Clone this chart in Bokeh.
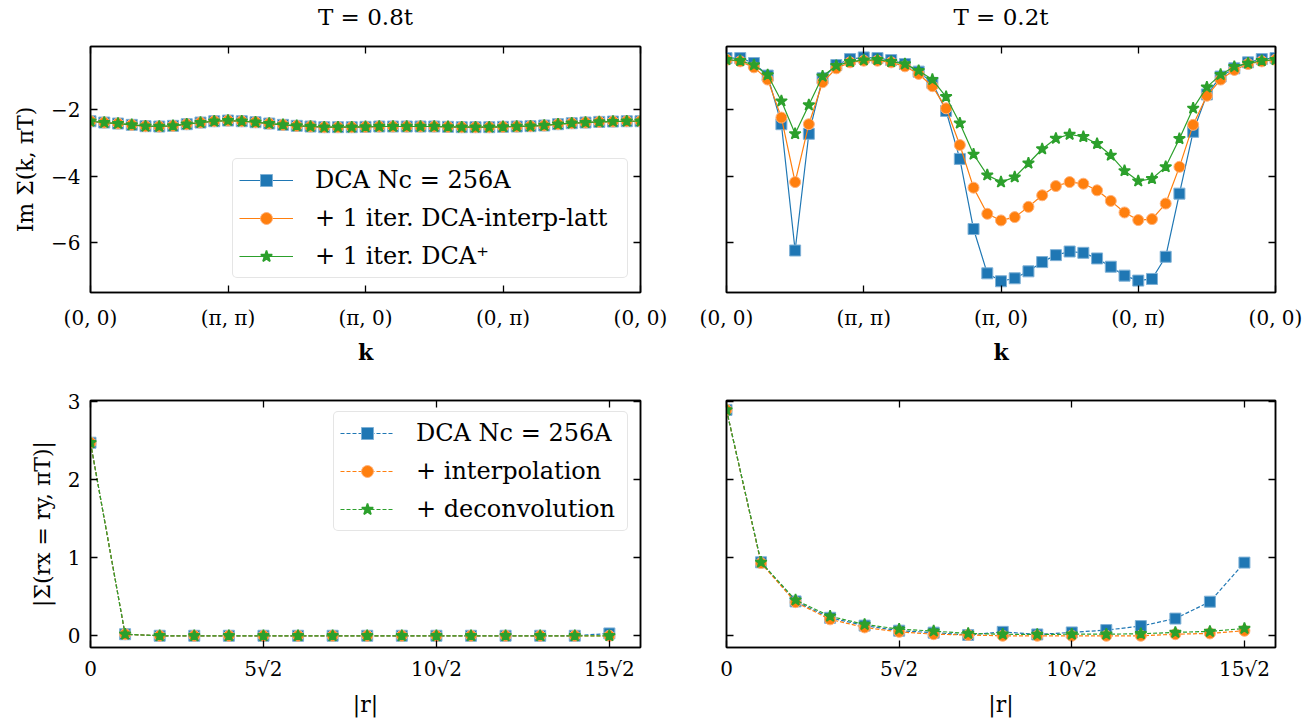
import numpy as np
from bokeh.plotting import figure
from bokeh.models import LinearAxis, FixedTicker, Range1d, Legend, LegendItem
from bokeh.layouts import column, row
from bokeh.embed import file_html
from bokeh.resources import INLINE

# ---------------- data ----------------
# k-path index: 41 points, 10 per segment (0,0)->(pi,pi)->(pi,0)->(0,pi)->(0,0)
k_index = list(range(41))
k_tick_pos = [0, 1, 2, 3, 4]
k_tick_labels = ["(0, 0)", "(π, π)", "(π, 0)", "(0, π)", "(0, 0)"]

# T = 0.8t : Im Sigma(k, pi T)
hiT_dca = [-2.34, -2.38, -2.41, -2.45, -2.49, -2.50, -2.48, -2.43, -2.38, -2.34,
           -2.32, -2.34, -2.37, -2.41, -2.45, -2.48, -2.50, -2.52, -2.52, -2.52,
           -2.51, -2.50, -2.50, -2.50, -2.50, -2.50, -2.51, -2.52, -2.52, -2.52,
           -2.51, -2.50, -2.49, -2.47, -2.43, -2.40, -2.38, -2.36, -2.35, -2.34, -2.34]
hiT_interp = [-2.34, -2.38, -2.41, -2.45, -2.49, -2.50, -2.48, -2.43, -2.38, -2.34,
              -2.32, -2.34, -2.37, -2.41, -2.45, -2.48, -2.50, -2.52, -2.52, -2.52,
              -2.51, -2.50, -2.50, -2.50, -2.50, -2.50, -2.51, -2.52, -2.52, -2.52,
              -2.51, -2.50, -2.49, -2.47, -2.43, -2.40, -2.38, -2.36, -2.35, -2.34, -2.34]
hiT_plus = [-2.34, -2.38, -2.41, -2.45, -2.49, -2.50, -2.48, -2.43, -2.38, -2.34,
            -2.32, -2.34, -2.37, -2.41, -2.45, -2.48, -2.50, -2.52, -2.52, -2.52,
            -2.51, -2.50, -2.50, -2.50, -2.50, -2.50, -2.51, -2.52, -2.52, -2.52,
            -2.51, -2.50, -2.49, -2.47, -2.43, -2.40, -2.38, -2.36, -2.35, -2.34, -2.34]

# T = 0.2t
loT_dca = [-0.43, -0.43, -0.58, -0.96, -2.43, -6.25, -2.72, -1.04, -0.64, -0.46,
           -0.41, -0.43, -0.49, -0.61, -0.84, -1.18, -2.03, -3.48, -5.60, -6.94,
           -7.18, -7.09, -6.88, -6.60, -6.39, -6.28, -6.32, -6.49, -6.74, -7.01,
           -7.16, -7.11, -6.44, -4.53, -2.66, -1.53, -0.99, -0.74, -0.56, -0.46, -0.43]
loT_interp = [-0.48, -0.53, -0.71, -1.08, -2.23, -4.18, -2.43, -1.16, -0.74, -0.56,
              -0.51, -0.51, -0.56, -0.68, -0.91, -1.28, -1.95, -3.06, -4.35, -5.14,
              -5.34, -5.24, -4.93, -4.58, -4.30, -4.18, -4.23, -4.43, -4.75, -5.10,
              -5.33, -5.30, -4.83, -3.72, -2.45, -1.57, -1.08, -0.79, -0.61, -0.53, -0.48]
loT_plus = [-0.48, -0.51, -0.64, -0.94, -1.73, -2.72, -1.85, -0.98, -0.66, -0.54,
            -0.49, -0.48, -0.54, -0.61, -0.81, -1.08, -1.60, -2.40, -3.34, -3.97,
            -4.18, -4.03, -3.61, -3.18, -2.86, -2.74, -2.81, -3.02, -3.37, -3.84,
            -4.15, -4.08, -3.72, -2.87, -1.95, -1.31, -0.93, -0.69, -0.59, -0.51, -0.48]

# |r| in units of sqrt(2): r_x = r_y = 0..15
r_index = list(range(16))
r_tick_pos = [0, 5, 10, 15]
r_tick_labels = ["0", "5√2", "10√2", "15√2"]

hiT_r_dca = [2.47, 0.02, 0.0, 0.0, 0.0, 0.0, 0.0, 0.0, 0.0, 0.0, 0.0, 0.0, 0.0, 0.0, 0.0, 0.03]
hiT_r_interp = [2.47, 0.02, 0.0, 0.0, 0.0, 0.0, 0.0, 0.0, 0.0, 0.0, 0.0, 0.0, 0.0, 0.0, 0.0, 0.0]
hiT_r_deconv = [2.47, 0.02, 0.0, 0.0, 0.0, 0.0, 0.0, 0.0, 0.0, 0.0, 0.0, 0.0, 0.0, 0.0, 0.0, 0.0]

loT_r_dca = [2.89, 0.94, 0.44, 0.23, 0.13, 0.065, 0.04, 0.01, 0.05, 0.017, 0.043, 0.073, 0.124, 0.22, 0.436, 0.936]
loT_r_interp = [2.89, 0.93, 0.43, 0.21, 0.107, 0.05, 0.02, 0.01, 0.0, 0.0, 0.0, 0.0, 0.0, 0.02, 0.03, 0.064]
loT_r_deconv = [2.89, 0.94, 0.457, 0.25, 0.145, 0.085, 0.06, 0.03, 0.02, 0.017, 0.02, 0.02, 0.026, 0.043, 0.056, 0.094]

titles = ["T = 0.8t", "T = 0.2t"]
legend_top = ["DCA Nc = 256A", "+ 1 iter. DCA-interp-latt", "+ 1 iter. DCA⁺"]
legend_bottom = ["DCA Nc = 256A", "+ interpolation", "+ deconvolution"]

# ---------------- style ----------------
FONT = "DejaVu Serif"
BLUE, ORANGE, GREEN = "#1f77b4", "#ff7f0e", "#2ca02c"
BLUE_E, ORANGE_E = "#7fb1d6", "#ffb27a"
TICK_FS = "20px"
FRAME_H = 248


def style_axis(ax, ticks, overrides, show, standoff=10, label_standoff=10):
    ax.ticker = FixedTicker(ticks=ticks)
    ax.major_tick_in = 7
    ax.major_tick_out = 0
    ax.major_tick_line_width = 1.3
    ax.major_tick_line_color = "black"
    ax.minor_tick_line_color = None
    ax.axis_line_color = "black"
    ax.axis_line_width = 1.5
    ax.major_label_text_font = FONT
    if show:
        ax.major_label_overrides = overrides
        ax.major_label_text_color = "black"
        ax.major_label_text_font_size = TICK_FS
        ax.major_label_standoff = standoff
    else:
        ax.major_label_text_color = None
        ax.major_label_text_font_size = "0px"
        ax.major_label_standoff = 0
    ax.axis_label_text_font = FONT
    ax.axis_label_text_font_size = "22px"
    ax.axis_label_text_font_style = "normal"
    ax.axis_label_text_color = "black"
    ax.axis_label_standoff = label_standoff


def make_fig(w, h, bl, br, bt, bb, xr, yr, xt, xl, yt, yl, show_y, xs, xls):
    p = figure(width=w, height=h, x_range=Range1d(*xr), y_range=Range1d(*yr),
               output_backend="svg", toolbar_location=None,
               min_border_left=bl, min_border_right=br,
               min_border_top=bt, min_border_bottom=bb)
    p.title.visible = False
    p.xgrid.visible = False
    p.ygrid.visible = False
    p.outline_line_color = "black"
    p.outline_line_width = 1.5
    p.background_fill_color = "white"
    p.border_fill_color = "white"
    xo = {t: l for t, l in zip(xt, xl)}
    yo = {t: l for t, l in zip(yt, yl)}
    style_axis(p.below[0], xt, xo, True, xs, xls)
    style_axis(p.left[0], yt, yo, show_y, 10, 10)
    top = LinearAxis()
    style_axis(top, xt, xo, False, 0, 14)
    p.add_layout(top, "above")
    right = LinearAxis()
    style_axis(right, yt, yo, False)
    p.add_layout(right, "right")
    return p, top


def add_series(p, x, y, kind, dash):
    if kind == 0:
        color, edge, marker, size, lw = BLUE, BLUE_E, "square", 11, 1
    elif kind == 1:
        color, edge, marker, size, lw = ORANGE, ORANGE_E, "circle", 11, 1
    else:
        color, edge, marker, size, lw = GREEN, GREEN, "star", 12, 1.6
    ln = p.line(x, y, line_color=color, line_width=1.2, line_dash=dash)
    sc = p.scatter(x, y, marker=marker, size=size, fill_color=color,
                   line_color=edge, line_width=lw)
    return [ln, sc]


def add_legend(p, labels, rends, loc, label_w):
    items = [LegendItem(label=l, renderers=r) for l, r in zip(labels, rends)]
    leg = Legend(items=items, location=loc, margin=0, padding=6, spacing=8,
                 glyph_width=54, glyph_height=30, label_height=30,
                 label_width=label_w, label_standoff=22,
                 label_text_font=FONT, label_text_font_size="24px",
                 label_text_color="black",
                 border_line_color="#cccccc", border_line_width=1.5,
                 background_fill_alpha=0.85)
    try:
        leg.border_radius = 5
    except Exception:
        pass
    p.add_layout(leg)


def set_title(ax, text):
    ax.axis_label = text
    ax.axis_label_text_font_size = "23px"
    ax.axis_label_standoff = 17


k_x = np.array(k_index) / 10.0
r_x = np.array(r_index, dtype=float)

top_yr = (-7.52, -0.08)
bot_yr = (-0.15, 3.01)
ky_ticks = [-6, -4, -2]
ky_labels = ["−6", "−4", "−2"]
ry_ticks = [0, 1, 2, 3]
ry_labels = ["0", "1", "2", "3"]

TOP_H = 45 + FRAME_H + 74
BOT_H = 33 + FRAME_H + 71

# top-left
p1, t1 = make_fig(683, TOP_H, 90, 43, 45, 74, (0, 4), top_yr,
                  k_tick_pos, k_tick_labels, ky_ticks, ky_labels, True, 13, 6)
p1.below[0].axis_label = "k"
p1.below[0].axis_label_text_font_style = "bold"
p1.left[0].axis_label = "Im Σ(k, πT)"
set_title(t1, titles[0])
r1 = [add_series(p1, k_x, hiT_dca, 0, "solid"),
      add_series(p1, k_x, hiT_interp, 1, "solid"),
      add_series(p1, k_x, hiT_plus, 2, "solid")]
add_legend(p1, legend_top, r1, (142, 14), 306)

# top-right
p2, t2 = make_fig(624, TOP_H, 43, 32, 45, 74, (0, 4), top_yr,
                  k_tick_pos, k_tick_labels, ky_ticks, ky_labels, False, 13, 6)
p2.below[0].axis_label = "k"
p2.below[0].axis_label_text_font_style = "bold"
set_title(t2, titles[1])
add_series(p2, k_x, loT_dca, 0, "solid")
add_series(p2, k_x, loT_interp, 1, "solid")
add_series(p2, k_x, loT_plus, 2, "solid")

# bottom-left
p3, _ = make_fig(683, BOT_H, 90, 43, 33, 71, (0, 15.9), bot_yr,
                 r_tick_pos, r_tick_labels, ry_ticks, ry_labels, True, 9, 8)
p3.below[0].axis_label = "|r|"
p3.left[0].axis_label = "|Σ(rx = ry, πT)|"
r3 = [add_series(p3, r_x, hiT_r_dca, 0, "4 2"),
      add_series(p3, r_x, hiT_r_interp, 1, "4 2"),
      add_series(p3, r_x, hiT_r_deconv, 2, "4 2")]
add_legend(p3, legend_bottom, r3, (243, 116), 205)

# bottom-right
p4, _ = make_fig(624, BOT_H, 43, 32, 33, 71, (0, 15.9), bot_yr,
                 r_tick_pos, r_tick_labels, ry_ticks, ry_labels, False, 9, 8)
p4.below[0].axis_label = "|r|"
add_series(p4, r_x, loT_r_dca, 0, "4 2")
add_series(p4, r_x, loT_r_interp, 1, "4 2")
add_series(p4, r_x, loT_r_deconv, 2, "4 2")

layout = column(row(p1, p2, spacing=0), row(p3, p4, spacing=0), spacing=0)

open("out.html", "w").write(file_html(layout, INLINE))
